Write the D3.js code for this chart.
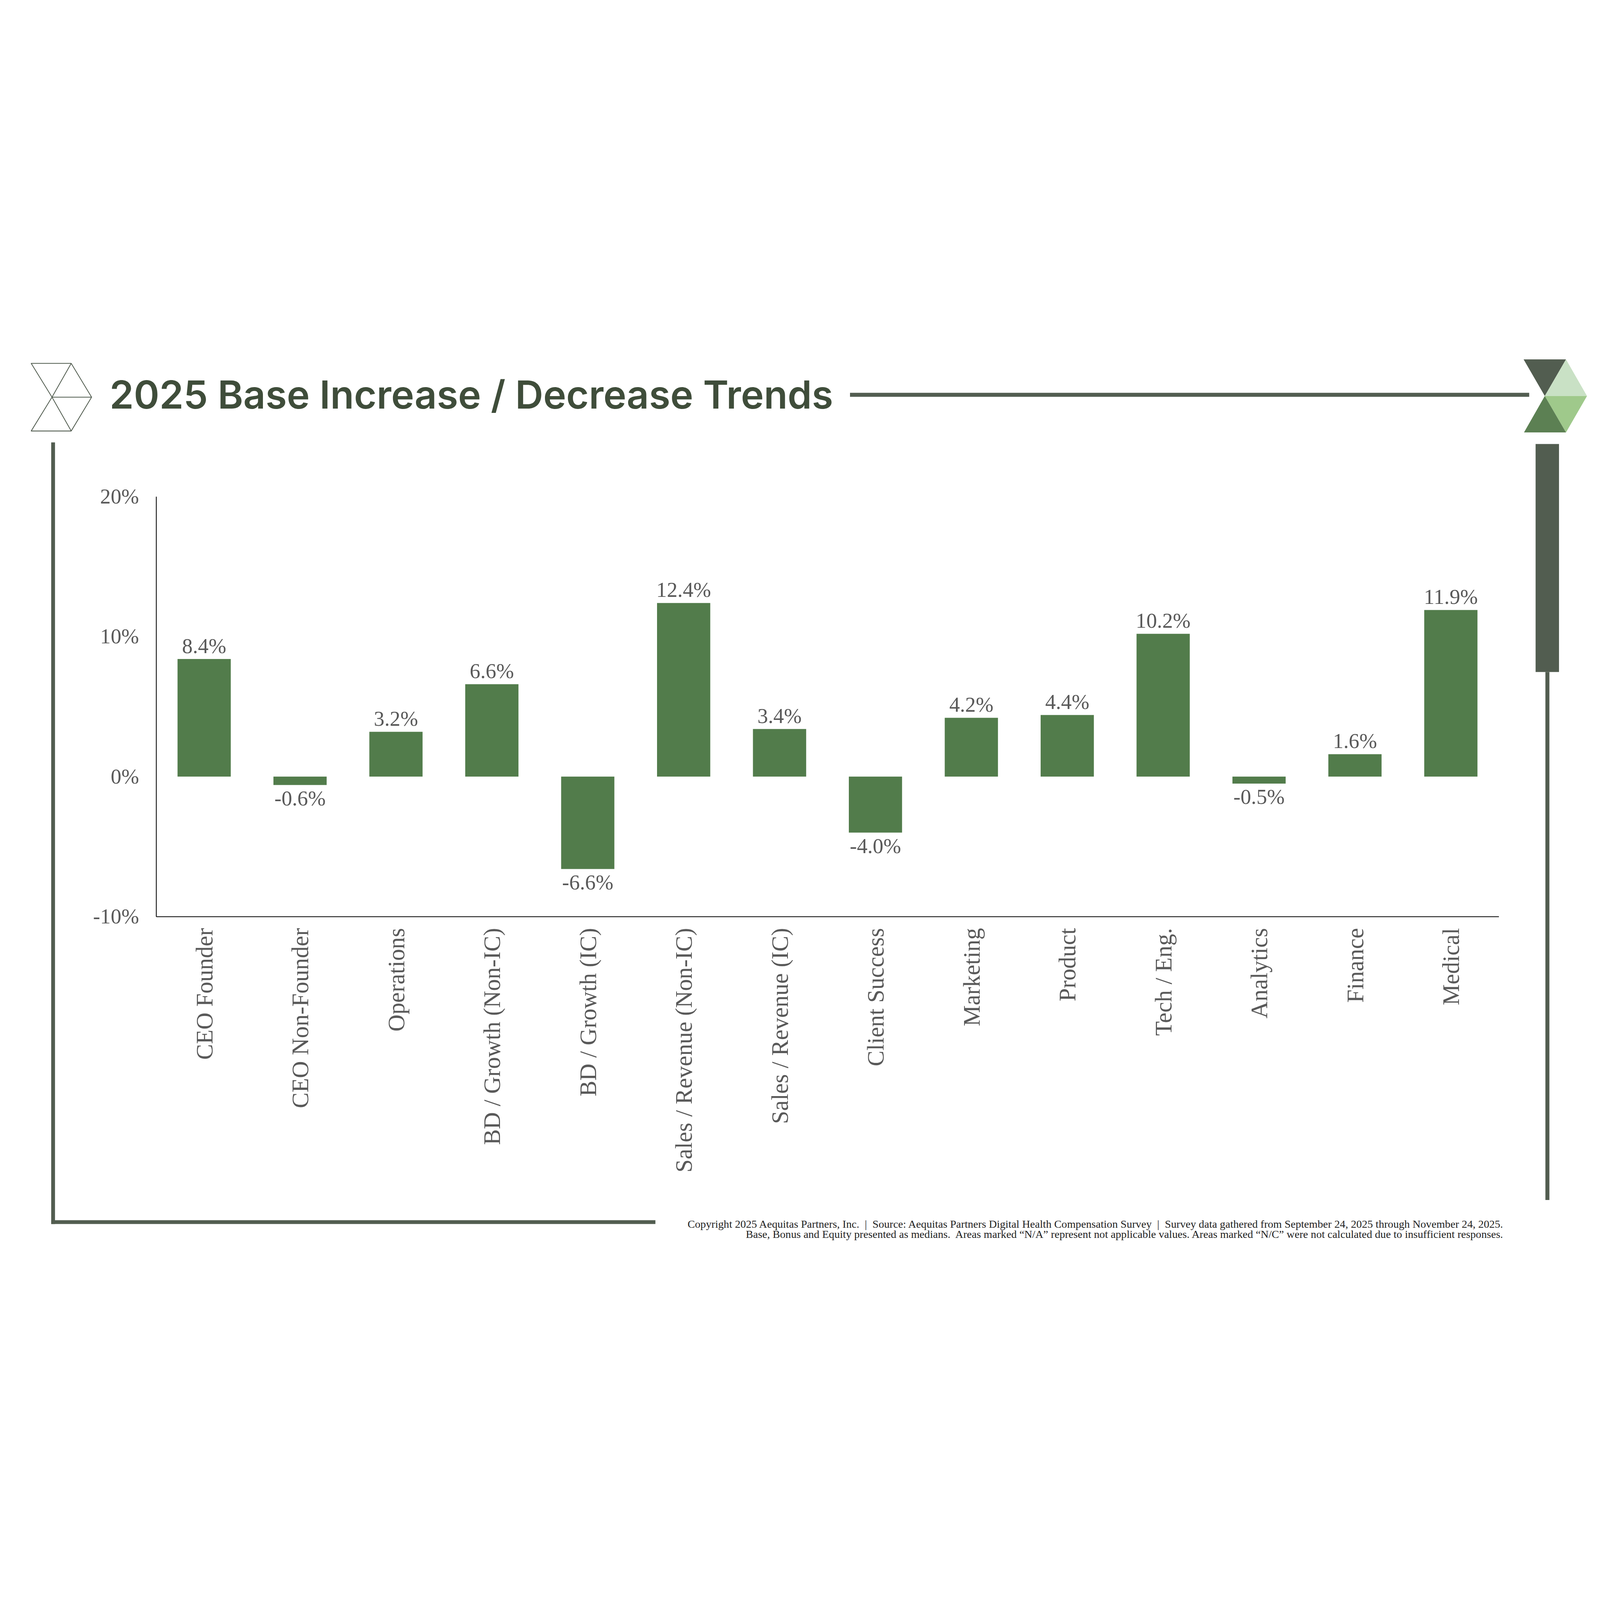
<!DOCTYPE html>
<html>
<head>
<meta charset="utf-8">
<script src="https://cdn.jsdelivr.net/npm/d3@7/dist/d3.min.js"></script>
<style>
  html, body { margin: 0; padding: 0; background: #fff; overflow: hidden; }
  svg { display: block; width: 100vw; height: 100vh; }
</style>
</head>
<body>
<div id="chart"></div>
<script>
var width = 8000,
    height = 4500;

// chart data
var categories = ["CEO Founder", "CEO Non-Founder", "Operations", "BD / Growth (Non-IC)",
  "BD / Growth (IC)", "Sales / Revenue (Non-IC)", "Sales / Revenue (IC)", "Client Success",
  "Marketing", "Product", "Tech / Eng.", "Analytics", "Finance", "Medical"];
var values = [8.4, -0.6, 3.2, 6.6, -6.6, 12.4, 3.4, -4.0, 4.2, 4.4, 10.2, -0.5, 1.6, 11.9];
var yTicks = [-10, 0, 10, 20];

var titleText = "2025 Base Increase / Decrease Trends";
var footerLines = [
  "Copyright 2025 Aequitas Partners, Inc.  |  Source: Aequitas Partners Digital Health Compensation Survey  |  Survey data gathered from September 24, 2025 through November 24, 2025.",
  "Base, Bonus and Equity presented as medians.  Areas marked \u201CN/A\u201D represent not applicable values. Areas marked \u201CN/C\u201D were not calculated due to insufficient responses."
];

var frameColor = "#525d50",
    barColor = "#527c4b",
    textGray = "#595959";

var svg = d3.select("#chart").append("svg")
    .attr("viewBox", "0 0 " + width + " " + height)
    .attr("preserveAspectRatio", "xMidYMid meet");

// ---- decorations ----
// left outline logo
var logoL = svg.append("g")
    .attr("fill", "none")
    .attr("stroke", frameColor)
    .attr("stroke-width", 4)
    .attr("stroke-linejoin", "round");
logoL.append("path")
    .attr("d", "M156,67 L356,67 L458,236 L356,405 L156,405 L260,236 Z");
logoL.append("path")
    .attr("d", "M356,67 L260,236 L356,405 M260,236 L458,236");

// title
svg.append("text")
    .attr("x", 548)
    .attr("y", 292)
    .attr("font-family", "Inter, Lato, sans-serif")
    .attr("font-weight", 600)
    .attr("font-size", 194)
    .attr("fill", "#3f4d3a")
    .text(titleText);

// title rule
svg.append("rect")
    .attr("x", 4250).attr("y", 214)
    .attr("width", 3396).attr("height", 20)
    .attr("fill", frameColor);

// right colored logo
var logoR = svg.append("g");
logoR.append("path").attr("d", "M7618,47 L7830,47 L7724,230 Z").attr("fill", "#525d50");
logoR.append("path").attr("d", "M7830,47 L7935,230 L7724,230 Z").attr("fill", "#c9e1c5");
logoR.append("path").attr("d", "M7724,230 L7935,230 L7830,412 Z").attr("fill", "#9fc98b");
logoR.append("path").attr("d", "M7724,230 L7830,412 L7620,412 Z").attr("fill", "#5c8053");

// right bar + thin line
svg.append("rect").attr("x", 7678).attr("y", 470).attr("width", 117).attr("height", 1140).attr("fill", frameColor);
svg.append("rect").attr("x", 7727).attr("y", 1610).attr("width", 20).attr("height", 2640).attr("fill", frameColor);

// left frame
svg.append("rect").attr("x", 256).attr("y", 462).attr("width", 19).attr("height", 3908).attr("fill", frameColor);
svg.append("rect").attr("x", 256).attr("y", 4351).attr("width", 3021).attr("height", 19).attr("fill", frameColor);

// ---- chart ----
var x = d3.scaleBand()
    .domain(categories)
    .range([781, 7494])
    .paddingInner(0.445)
    .paddingOuter(0.2225);

var y = d3.scaleLinear()
    .domain([-10, 20])
    .range([2833, 733]);

var chart = svg.append("g");

chart.selectAll(".bar")
    .data(values)
    .enter().append("rect")
    .attr("class", "bar")
    .attr("x", function(d, i) { return x(categories[i]); })
    .attr("width", x.bandwidth())
    .attr("y", function(d) { return y(Math.max(0, d)); })
    .attr("height", function(d) { return Math.abs(y(d) - y(0)); })
    .attr("fill", barColor);

chart.selectAll(".lbl")
    .data(values)
    .enter().append("text")
    .attr("class", "lbl")
    .attr("x", function(d, i) { return x(categories[i]) + x.bandwidth() / 2; })
    .attr("y", function(d) { return d >= 0 ? y(d) - 30 : y(d) + 102; })
    .attr("text-anchor", "middle")
    .attr("font-family", "'Liberation Serif', serif")
    .attr("font-size", 106)
    .attr("fill", textGray)
    .text(function(d) { return d.toFixed(1) + "%"; });

// y axis
var yAxis = chart.append("g")
    .attr("transform", "translate(781,0)")
    .call(d3.axisLeft(y).tickValues(yTicks).tickSize(0).tickPadding(86)
      .tickFormat(function(d) { return d + "%"; }));
yAxis.select(".domain").attr("stroke", "#000").attr("stroke-width", 4);
yAxis.selectAll("text")
    .attr("font-family", "'Liberation Serif', serif")
    .attr("font-size", 106)
    .attr("fill", textGray);

// x axis
var xAxis = chart.append("g")
    .attr("transform", "translate(0,2833)")
    .call(d3.axisBottom(x).tickSize(0).tickSizeOuter(0));
xAxis.select(".domain").attr("stroke", "#000").attr("stroke-width", 4);
xAxis.selectAll("text")
    .attr("transform", "rotate(-90)")
    .attr("x", -57)
    .attr("y", 0)
    .attr("dy", "0.35em")
    .attr("text-anchor", "end")
    .attr("font-family", "'Liberation Serif', serif")
    .attr("font-size", 118)
    .attr("fill", textGray);

// footer
svg.selectAll(".foot")
    .data(footerLines)
    .enter().append("text")
    .attr("class", "foot")
    .attr("x", 7515)
    .attr("y", function(d, i) { return 4388 + i * 51; })
    .attr("text-anchor", "end")
    .attr("font-family", "'Liberation Serif', serif")
    .attr("font-size", 55)
    .attr("fill", "#222")
    .style("white-space", "pre")
    .text(function(d) { return d; });
</script>
</body>
</html>
